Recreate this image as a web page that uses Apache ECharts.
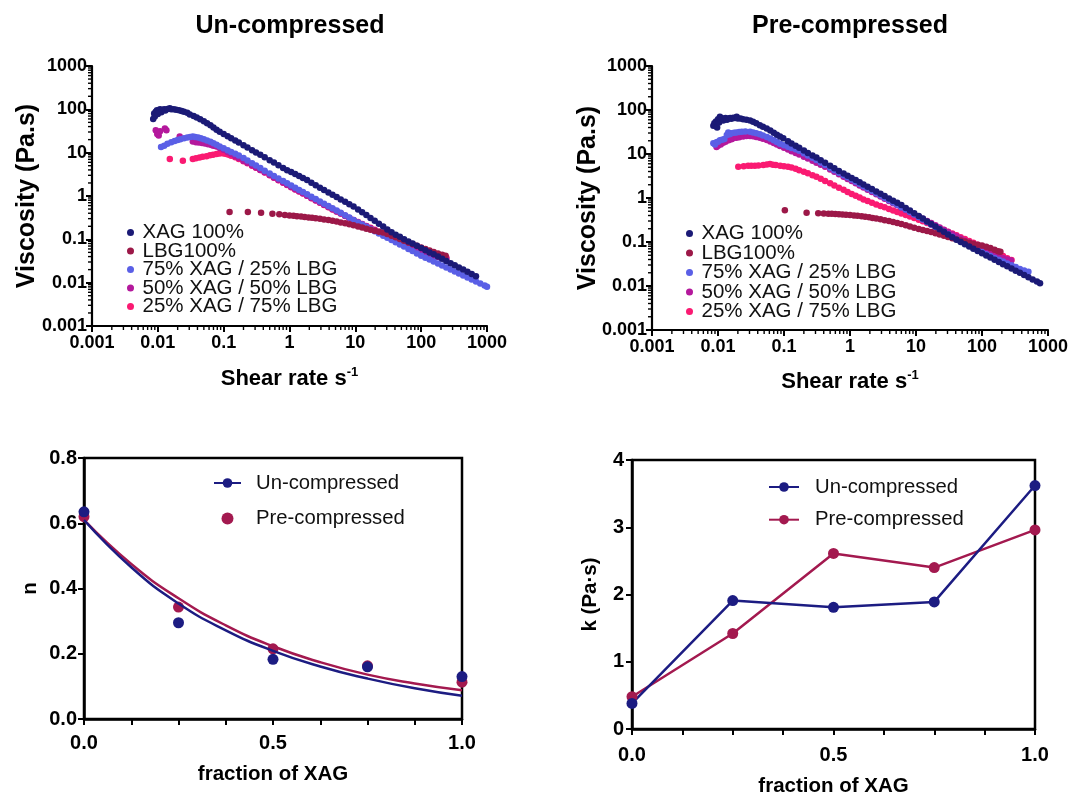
<!DOCTYPE html>
<html>
<head>
<meta charset="utf-8">
<title>Viscosity of XAG / LBG blends</title>
<script src="https://cdn.jsdelivr.net/npm/echarts@6/dist/echarts.min.js"></script>
<style>
    body { margin: 0; background: #fff; }
    .panel { position: absolute; }
</style>
</head>
<body>
<div id="visc-un" class="panel" style="left:0;top:0;width:536px;height:400px"></div>
<div id="visc-pre" class="panel" style="left:536px;top:0;width:536px;height:400px"></div>
<div id="n-chart" class="panel" style="left:0;top:400px;width:536px;height:395px"></div>
<div id="k-chart" class="panel" style="left:536px;top:400px;width:536px;height:395px"></div>
<script>
var FONT = '"Liberation Sans", Arial, Helvetica, sans-serif';

// legend names / colours of the flow curves
var blendNames = ['XAG 100%', 'LBG100%', '75% XAG / 25% LBG', '50% XAG / 50% LBG', '25% XAG / 75% LBG'];
var blendColors = ['#1b1a76', '#9c1848', '#5a5fe6', '#b4189c', '#fa1a72'];

// Un-compressed : [shear rate, viscosity]
var unXag = [[0.0085,60],[0.0088,80],[0.009,68],[0.0093,88],[0.0097,95],[0.01,78],[0.0104,92],[0.0108,100],[0.0113,86],[0.0118,96],[0.0125,100],[0.013,94],[0.014,102],[0.0152,106],[0.016,100],[0.0175,101],[0.019,98],[0.021,95],[0.023,92],[0.025,88],[0.028,83],[0.0306,76],[0.035,70],[0.039,65],[0.044,59],[0.05,53],[0.056,48],[0.063,43],[0.07,38],[0.078,34],[0.087,30.5],[0.1,27],[0.115,24],[0.13,21.5],[0.15,19],[0.17,17.1],[0.2,14.8],[0.23,13.1],[0.27,11.4],[0.31,10.1],[0.36,8.9],[0.42,7.8],[0.5,6.7],[0.58,5.9],[0.68,5.1],[0.8,4.45],[0.92,3.95],[1.06,3.6],[1.22,3.2],[1.4,2.9],[1.6,2.6],[1.85,2.33],[2.15,2.02],[2.5,1.77],[2.9,1.56],[3.35,1.38],[3.9,1.21],[4.5,1.07],[5.2,0.945],[6,0.835],[7,0.733],[8.1,0.647],[9.4,0.569],[11,0.491],[12.7,0.423],[14.7,0.363],[17,0.312],[19.7,0.268],[22.8,0.23],[26.5,0.197],[30.6,0.169],[35.5,0.145],[41,0.128],[47.5,0.114],[55,0.101],[64,0.0897],[74,0.0798],[86,0.0708],[100,0.063],[116,0.056],[134,0.05],[155,0.045],[180,0.04],[208,0.0356],[241,0.0318],[280,0.0282],[324,0.0252],[375,0.0225],[435,0.02],[505,0.0178],[585,0.0159],[680,0.014]];
var unLbg = [[0.123,0.425],[0.233,0.43],[0.37,0.41],[0.55,0.39],[0.7,0.38],[0.85,0.365],[1,0.355],[1.15,0.348],[1.3,0.342],[1.5,0.335],[1.7,0.328],[1.95,0.32],[2.2,0.313],[2.5,0.306],[2.9,0.297],[3.35,0.288],[3.9,0.278],[4.5,0.268],[5.2,0.257],[6,0.246],[7,0.234],[8.1,0.222],[9.4,0.21],[11,0.198],[12.7,0.187],[14.7,0.176],[17,0.166],[19.7,0.157],[22.8,0.15],[26.5,0.143],[30.6,0.132],[35.5,0.121],[41,0.111],[47.5,0.102],[55,0.093],[64,0.085],[74,0.078],[86,0.071],[100,0.065],[116,0.06],[134,0.055],[155,0.051],[180,0.047],[208,0.044],[235,0.042]];
var un75 = [[0.0112,13.5],[0.0125,14.5],[0.014,16],[0.016,17.5],[0.018,18.5],[0.02,19.5],[0.022,20.5],[0.025,21.5],[0.028,22.5],[0.031,23],[0.034,23.5],[0.037,23],[0.041,22.5],[0.045,21.5],[0.05,20.5],[0.056,19.2],[0.063,17.8],[0.07,16.5],[0.078,15.2],[0.087,13.9],[0.1,12.6],[0.115,11.3],[0.13,10.3],[0.15,9.5],[0.17,8.6],[0.2,7.5],[0.23,6.6],[0.27,5.7],[0.31,5.05],[0.36,4.4],[0.42,3.85],[0.5,3.3],[0.58,2.9],[0.68,2.53],[0.8,2.21],[0.92,1.96],[1.06,1.74],[1.22,1.55],[1.4,1.38],[1.6,1.235],[1.85,1.094],[2.15,0.965],[2.5,0.85],[2.9,0.75],[3.35,0.665],[3.9,0.586],[4.5,0.52],[5.2,0.46],[6,0.409],[7,0.359],[8.1,0.318],[9.4,0.281],[11,0.246],[12.7,0.219],[14.7,0.195],[17,0.1735],[19.7,0.154],[22.8,0.137],[26.5,0.1216],[30.6,0.1083],[35.5,0.0963],[41,0.0858],[47.5,0.0763],[55,0.0679],[64,0.06],[74,0.0535],[86,0.0474],[100,0.042],[116,0.0378],[134,0.0341],[155,0.0307],[180,0.0276],[208,0.0249],[241,0.0224],[280,0.0201],[324,0.0181],[375,0.0163],[435,0.0147],[505,0.0132],[585,0.0119],[680,0.0107],[790,0.0096],[920,0.0086],[1000,0.0081]];
var un50 = [[0.0093,33],[0.0098,27],[0.0103,25],[0.0108,31],[0.0128,36],[0.0135,33],[0.0215,23.5],[0.034,18],[0.038,17.5],[0.042,17.2],[0.047,16.8],[0.052,16.3],[0.058,15.6],[0.065,15],[0.07,14.5],[0.078,13.8],[0.087,12.8],[0.1,11.6],[0.115,10.4],[0.13,9.4],[0.15,8.3],[0.17,7.5],[0.2,6.55],[0.23,5.85],[0.27,5.1],[0.31,4.55],[0.36,4],[0.42,3.52],[0.5,3.04],[0.58,2.69],[0.68,2.35],[0.8,2.06],[0.92,1.83],[1.06,1.62],[1.22,1.44],[1.4,1.29],[1.6,1.15],[1.85,1.02],[2.15,0.9],[2.5,0.795],[2.9,0.705],[3.35,0.625],[3.9,0.555],[4.5,0.495],[5.2,0.44],[6,0.393],[7,0.347],[8.1,0.31],[9.4,0.277],[11,0.246],[12.7,0.222],[14.7,0.2],[17,0.18],[19.7,0.162],[22.8,0.146],[26.5,0.131],[30.6,0.118],[35.5,0.106],[41,0.096],[47.5,0.087],[55,0.078],[64,0.071],[74,0.064],[86,0.058],[100,0.053],[116,0.049],[134,0.045],[155,0.042],[180,0.039],[208,0.037],[241,0.035]];
var un25 = [[0.0152,7.1],[0.024,6.5],[0.034,7.1],[0.038,7.4],[0.043,7.7],[0.048,8],[0.055,8.3],[0.062,8.7],[0.069,8.9],[0.078,9.3],[0.087,9.6],[0.1,9.6],[0.11,9.3],[0.12,8.9],[0.13,8.5],[0.15,7.8],[0.17,7.1],[0.2,6.3],[0.23,5.7],[0.27,5],[0.31,4.5],[0.36,4],[0.42,3.5],[0.5,3],[0.58,2.65],[0.68,2.3],[0.8,2.02],[0.92,1.8],[1.06,1.6],[1.22,1.42],[1.4,1.27],[1.6,1.14],[1.85,1.01],[2.15,0.89],[2.5,0.79],[2.9,0.7],[3.35,0.62],[3.9,0.55],[4.5,0.49],[5.2,0.44],[6,0.393],[7,0.35],[8.1,0.312],[9.4,0.28],[11,0.25],[12.7,0.226],[14.7,0.204],[17,0.184],[19.7,0.166],[22.8,0.15],[26.5,0.135],[30.6,0.122],[35.5,0.11],[41,0.1],[47.5,0.09],[55,0.082],[64,0.074],[74,0.067],[86,0.061],[100,0.056],[116,0.052],[134,0.048],[155,0.045],[180,0.042],[208,0.04],[241,0.038]];

// Pre-compressed : [shear rate, viscosity]
var preXag = [[0.0085,44],[0.0088,50],[0.009,46],[0.0093,55],[0.0097,40],[0.01,62],[0.0104,52],[0.0107,70],[0.011,60],[0.0115,65],[0.012,58],[0.0125,62],[0.013,66],[0.0137,60],[0.0145,64],[0.0153,66],[0.016,63],[0.017,67],[0.018,66],[0.0192,70],[0.02,64],[0.022,64],[0.024,62],[0.027,60],[0.0306,58],[0.034,54],[0.038,50],[0.043,45],[0.048,41.5],[0.0547,38],[0.062,34],[0.07,30.5],[0.078,27.5],[0.087,25],[0.0976,22.7],[0.115,19.5],[0.13,17.4],[0.15,15.4],[0.17,13.9],[0.2,12],[0.23,10.6],[0.27,9.3],[0.31,8.3],[0.36,7.25],[0.42,6.3],[0.5,5.4],[0.58,4.75],[0.68,4.1],[0.8,3.6],[0.92,3.2],[1.06,2.85],[1.22,2.55],[1.4,2.28],[1.6,2.04],[1.85,1.81],[2.15,1.6],[2.5,1.41],[2.9,1.25],[3.35,1.11],[3.9,0.98],[4.5,0.87],[5.2,0.775],[6,0.69],[7,0.593],[8.1,0.518],[9.4,0.45],[11,0.388],[12.7,0.34],[14.7,0.294],[17,0.257],[19.7,0.225],[22.8,0.196],[26.5,0.17],[30.6,0.148],[35.5,0.129],[41,0.112],[47.5,0.0994],[55,0.0885],[64,0.0786],[74,0.0704],[86,0.0626],[100,0.0557],[116,0.0496],[134,0.0443],[155,0.0395],[180,0.0351],[208,0.0314],[241,0.028],[280,0.0249],[324,0.0223],[375,0.0199],[435,0.0177],[505,0.0158],[585,0.0141],[680,0.0126],[757,0.0116]];
var preLbg = [[0.103,0.53],[0.22,0.46],[0.33,0.45],[0.4,0.445],[0.47,0.44],[0.53,0.437],[0.6,0.433],[0.68,0.428],[0.77,0.423],[0.87,0.418],[1,0.41],[1.15,0.402],[1.3,0.395],[1.5,0.385],[1.7,0.375],[1.95,0.364],[2.2,0.353],[2.5,0.342],[2.9,0.328],[3.35,0.314],[3.9,0.299],[4.5,0.285],[5.2,0.27],[6,0.256],[7,0.241],[8.1,0.226],[9.4,0.212],[11,0.198],[12.7,0.188],[14.7,0.178],[17,0.168],[19.7,0.158],[22.8,0.148],[26.5,0.139],[30.6,0.13],[35.5,0.122],[41,0.115],[47.5,0.108],[55,0.102],[64,0.096],[74,0.091],[86,0.087],[100,0.083],[116,0.078],[134,0.073],[155,0.067],[175,0.062],[190,0.06]];
var pre75 = [[0.0085,17.5],[0.009,16.5],[0.0095,18.5],[0.01,19],[0.0107,20.5],[0.0115,21],[0.0125,22],[0.0136,27],[0.0143,31],[0.015,28],[0.016,29.5],[0.0175,30.5],[0.019,31],[0.021,31.5],[0.023,32],[0.026,32.5],[0.0306,32],[0.034,31],[0.038,29.5],[0.043,28],[0.048,26.5],[0.055,24.5],[0.062,22.5],[0.07,20.5],[0.078,18.8],[0.087,17.2],[0.1,15.8],[0.115,14.6],[0.13,13.7],[0.15,12.8],[0.17,11.8],[0.2,10.4],[0.23,9.3],[0.27,8.2],[0.31,7.3],[0.36,6.4],[0.42,5.6],[0.5,4.85],[0.58,4.3],[0.68,3.75],[0.8,3.3],[0.92,2.95],[1.06,2.62],[1.22,2.33],[1.4,2.08],[1.6,1.86],[1.85,1.65],[2.15,1.46],[2.5,1.29],[2.9,1.14],[3.35,1.01],[3.9,0.89],[4.5,0.79],[5.2,0.7],[6,0.62],[7,0.545],[8.1,0.48],[9.4,0.42],[11,0.37],[12.7,0.325],[14.7,0.285],[17,0.25],[19.7,0.22],[22.8,0.194],[26.5,0.17],[30.6,0.15],[35.5,0.132],[41,0.117],[47.5,0.104],[55,0.093],[64,0.083],[74,0.074],[86,0.066],[100,0.059],[116,0.053],[134,0.048],[155,0.0435],[180,0.0395],[208,0.036],[241,0.0325],[280,0.0295],[324,0.027],[375,0.0245],[435,0.0225],[505,0.021]];
var pre50 = [[0.0095,14.5],[0.01,15.5],[0.011,16.5],[0.012,18],[0.013,19],[0.0145,20.5],[0.016,21.5],[0.017,22.7],[0.019,23.5],[0.021,24],[0.024,25],[0.027,25.5],[0.0306,25.6],[0.034,25.2],[0.038,24.5],[0.043,23.5],[0.048,22.3],[0.055,20.8],[0.062,19.3],[0.07,17.8],[0.078,16.5],[0.087,15.2],[0.1,13.8],[0.115,12.6],[0.13,11.6],[0.15,10.6],[0.17,9.8],[0.2,8.7],[0.23,7.9],[0.27,7],[0.31,6.35],[0.36,5.7],[0.42,5.1],[0.5,4.45],[0.58,3.95],[0.68,3.48],[0.8,3.05],[0.92,2.72],[1.06,2.42],[1.22,2.16],[1.4,1.93],[1.6,1.73],[1.85,1.54],[2.15,1.37],[2.5,1.21],[2.9,1.08],[3.35,0.96],[3.9,0.85],[4.5,0.76],[5.2,0.68],[6,0.6],[7,0.535],[8.1,0.475],[9.4,0.425],[11,0.378],[12.7,0.338],[14.7,0.302],[17,0.27],[19.7,0.24],[22.8,0.214],[26.5,0.19],[30.6,0.169],[35.5,0.151],[41,0.135],[47.5,0.12],[55,0.107],[64,0.096],[74,0.086],[86,0.077],[100,0.069],[116,0.062],[134,0.056],[155,0.051],[180,0.047],[208,0.043],[241,0.04],[275,0.038]];
var pre25 = [[0.0203,5.1],[0.0245,5.3],[0.0286,5.4],[0.032,5.4],[0.0362,5.4],[0.041,5.5],[0.0486,5.6],[0.055,5.8],[0.0614,5.9],[0.068,5.7],[0.075,5.6],[0.0876,5.4],[0.1,5.3],[0.115,5.15],[0.13,4.95],[0.15,4.6],[0.17,4.3],[0.2,3.95],[0.23,3.65],[0.27,3.3],[0.31,3.05],[0.36,2.75],[0.42,2.45],[0.5,2.15],[0.58,1.92],[0.68,1.72],[0.8,1.53],[0.92,1.37],[1.06,1.24],[1.22,1.12],[1.4,1.02],[1.6,0.93],[1.85,0.855],[2.15,0.78],[2.5,0.715],[2.9,0.655],[3.35,0.62],[3.9,0.565],[4.5,0.52],[5.2,0.48],[6,0.445],[7,0.41],[8.1,0.378],[9.4,0.35],[11,0.32],[12.7,0.295],[14.7,0.27],[17,0.248],[19.7,0.227],[22.8,0.207],[26.5,0.188],[30.6,0.171],[35.5,0.156],[41,0.142],[47.5,0.129],[55,0.117],[64,0.106],[74,0.096],[86,0.087],[100,0.079],[116,0.072],[134,0.065],[155,0.059],[180,0.053],[208,0.048],[241,0.043],[280,0.039]];

// power-law parameters vs fraction of XAG
var fraction = [0, 0.25, 0.5, 0.75, 1.0];
var nUn = [0.635, 0.295, 0.183, 0.16, 0.13];
var nPre = [0.62, 0.343, 0.215, 0.163, 0.113];
var fitX = [0, 0.125, 0.25, 0.375, 0.5, 0.625, 0.75, 0.875, 1.0];
var nFitUn = [0.61, 0.465, 0.354, 0.272, 0.209, 0.161, 0.124, 0.094, 0.071];
var nFitPre = [0.61, 0.475, 0.37, 0.287, 0.223, 0.174, 0.136, 0.109, 0.088];
var kUn = [0.38, 1.91, 1.81, 1.89, 3.62];
var kPre = [0.48, 1.42, 2.61, 2.40, 2.96];

var navy = '#1c1c82';
var crimson = '#a3194f';

// log minor ticks 2..9 in each decade
var mults = [2, 3, 4, 5, 6, 7, 8, 9];
var decades = [0.001, 0.01, 0.1, 1, 10, 100];
var minorTicks = [];
decades.forEach(function (d) {
    mults.forEach(function (m) { minorTicks.push(+(d * m).toPrecision(3)); });
});

function zip(xs, ys) {
    return xs.map(function (x, i) { return [x, ys[i]]; });
}

function logLabel(v) {
    return String(+Number(v).toPrecision(6));
}

function fracLabel(v) {
    if (v === 0) return '0.0';
    if (v === 0.5) return '0.5';
    if (v === 1) return '1.0';
    return '';
}

function boldText(size) {
    return { fontFamily: FONT, fontSize: size, fontWeight: 'bold', color: '#000' };
}

function viscosityOption(cfg) {
    var series = [];
    // XAG drawn last so it stays on top
    for (var i = cfg.sets.length - 1; i >= 0; i--) {
        series.push({
            name: blendNames[i],
            type: 'scatter',
            data: cfg.sets[i],
            symbolSize: 6.5,
            itemStyle: { color: blendColors[i], opacity: 1 }
        });
    }
    series.push({
        type: 'custom',
        silent: true,
        data: minorTicks.map(function (v) { return [v, 0.001]; }),
        renderItem: function (params, api) {
            var c = api.coord([api.value(0), api.value(1)]);
            return { type: 'line', shape: { x1: c[0], y1: c[1], x2: c[0], y2: c[1] + 4 }, style: { stroke: '#000', lineWidth: 1.4 } };
        }
    });
    series.push({
        type: 'custom',
        silent: true,
        data: minorTicks.map(function (v) { return [0.001, v]; }),
        renderItem: function (params, api) {
            var c = api.coord([api.value(0), api.value(1)]);
            return { type: 'line', shape: { x1: c[0], y1: c[1], x2: c[0] - 4, y2: c[1] }, style: { stroke: '#000', lineWidth: 1.4 } };
        }
    });
    return {
        animation: false,
        title: {
            text: cfg.title,
            left: cfg.titleX,
            top: 9,
            textAlign: 'center',
            textStyle: boldText(25)
        },
        legend: {
            orient: 'vertical',
            left: cfg.legendLeft,
            top: cfg.legendTop,
            icon: 'circle',
            itemWidth: 14,
            itemHeight: 7,
            itemGap: cfg.rowGap,
            selectedMode: false,
            data: blendNames,
            textStyle: { fontFamily: FONT, fontSize: 20.5, color: '#111' }
        },
        grid: { left: cfg.gridLeft, top: 66, width: cfg.gridW, height: cfg.gridH, outerBoundsMode: 'none' },
        xAxis: {
            type: 'log',
            logBase: 10,
            min: 0.001,
            max: 1000,
            name: '{a|Shear rate s}{b|-1}',
            nameLocation: 'middle',
            nameGap: cfg.xNameGap,
            nameMoveOverlap: false,
            nameTextStyle: {
                rich: {
                    a: { fontFamily: FONT, fontSize: 22, fontWeight: 'bold', color: '#000', lineHeight: 26 },
                    b: { fontFamily: FONT, fontSize: 13, fontWeight: 'bold', color: '#000', lineHeight: 12, verticalAlign: 'top' }
                }
            },
            axisLine: { onZero: false, lineStyle: { color: '#000', width: 2.2 } },
            axisTick: { length: 6, lineStyle: { color: '#000', width: 2 } },
            axisLabel: Object.assign({ formatter: logLabel, margin: 8 }, boldText(18)),
            splitLine: { show: false }
        },
        yAxis: {
            type: 'log',
            logBase: 10,
            min: 0.001,
            max: 1000,
            name: 'Viscosity (Pa.s)',
            nameLocation: 'middle',
            nameGap: cfg.yNameGap,
            nameMoveOverlap: false,
            nameTextStyle: boldText(25),
            axisLine: { show: true, onZero: false, lineStyle: { color: '#000', width: 2.2 } },
            axisTick: { show: true, length: 6, lineStyle: { color: '#000', width: 2 } },
            axisLabel: Object.assign({ formatter: logLabel, margin: 5 }, boldText(18)),
            splitLine: { show: false }
        },
        series: series
    };
}

function fractionAxis(nameGap, margin) {
    return {
        type: 'value',
        min: 0,
        max: 1,
        interval: 0.125,
        name: 'fraction of XAG',
        nameLocation: 'middle',
        nameGap: nameGap,
        nameMoveOverlap: false,
        nameTextStyle: boldText(20.5),
        axisLine: { onZero: false, lineStyle: { color: '#000', width: 2.5 } },
        axisTick: { length: 6, lineStyle: { color: '#000', width: 2 } },
        axisLabel: Object.assign({ formatter: fracLabel, margin: margin, showMinLabel: true, showMaxLabel: true }, boldText(20)),
        splitLine: { show: false }
    };
}

var visc_un = echarts.init(document.getElementById('visc-un'));
visc_un.setOption(viscosityOption({
    title: 'Un-compressed', titleX: 285,
    legendLeft: 122, legendTop: 217, rowGap: -2.5,
    gridLeft: 92, gridW: 395, gridH: 260, xNameGap: 40, yNameGap: 52,
    sets: [unXag, unLbg, un75, un50, un25]
}));

var visc_pre = echarts.init(document.getElementById('visc-pre'));
visc_pre.setOption(viscosityOption({
    title: 'Pre-compressed', titleX: 309,
    legendLeft: 145, legendTop: 218, rowGap: -1.5,
    gridLeft: 116, gridW: 396, gridH: 264, xNameGap: 39, yNameGap: 51,
    sets: [preXag, preLbg, pre75, pre50, pre25]
}));

// n vs fraction, with the fitted decay curves
var n_chart = echarts.init(document.getElementById('n-chart'));
n_chart.setOption({
    animation: false,
    legend: {
        orient: 'vertical',
        left: 208,
        top: 67,
        itemWidth: 27,
        itemHeight: 12,
        itemGap: 13.6,
        selectedMode: false,
        data: ['Un-compressed', 'Pre-compressed'],
        textStyle: { fontFamily: FONT, fontSize: 20.3, lineHeight: 22, color: '#111', padding: [0, 0, 0, 10] }
    },
    grid: { left: 84, top: 58, width: 378, height: 261, show: true, borderColor: '#000', borderWidth: 2.5, outerBoundsMode: 'none' },
    xAxis: fractionAxis(45, 14),
    yAxis: {
        type: 'value',
        min: 0,
        max: 0.8,
        interval: 0.2,
        name: 'n',
        nameLocation: 'middle',
        nameGap: 43,
        nameMoveOverlap: false,
        nameTextStyle: boldText(20.5),
        axisLine: { show: true, lineStyle: { color: '#000', width: 2.5 } },
        axisTick: { show: true, length: 6, lineStyle: { color: '#000', width: 2 } },
        axisLabel: Object.assign({ formatter: function (v) { return v.toFixed(1); }, margin: 7 }, boldText(20)),
        splitLine: { show: false }
    },
    series: [
        {
            name: 'Pre-compressed fit',
            type: 'line',
            smooth: true,
            showSymbol: false,
            data: zip(fitX, nFitPre),
            lineStyle: { color: crimson, width: 2.5 },
            itemStyle: { color: crimson }
        },
        {
            name: 'Un-compressed',
            type: 'line',
            smooth: true,
            showSymbol: false,
            symbol: 'circle',
            data: zip(fitX, nFitUn),
            lineStyle: { color: navy, width: 2.5 },
            itemStyle: { color: navy }
        },
        {
            name: 'Pre-compressed',
            type: 'scatter',
            symbol: 'circle',
            symbolSize: 11,
            data: zip(fraction, nPre),
            itemStyle: { color: crimson, opacity: 1 }
        },
        {
            name: 'Un-compressed points',
            type: 'scatter',
            symbol: 'circle',
            symbolSize: 11,
            data: zip(fraction, nUn),
            itemStyle: { color: navy, opacity: 1 }
        }
    ]
});

// k vs fraction
var k_chart = echarts.init(document.getElementById('k-chart'));
k_chart.setOption({
    animation: false,
    legend: {
        orient: 'vertical',
        left: 227,
        top: 71,
        itemWidth: 30,
        itemHeight: 12,
        itemGap: 10.7,
        selectedMode: false,
        data: ['Un-compressed', 'Pre-compressed'],
        textStyle: { fontFamily: FONT, fontSize: 20.3, lineHeight: 22, color: '#111', padding: [0, 0, 0, 11] }
    },
    grid: { left: 96, top: 60, width: 403, height: 269, show: true, borderColor: '#000', borderWidth: 2.5, outerBoundsMode: 'none' },
    xAxis: fractionAxis(47, 16),
    yAxis: {
        type: 'value',
        min: 0,
        max: 4,
        interval: 1,
        name: 'k (Pa·s)',
        nameLocation: 'middle',
        nameGap: 31,
        nameMoveOverlap: false,
        nameTextStyle: boldText(20.5),
        axisLine: { show: true, lineStyle: { color: '#000', width: 2.5 } },
        axisTick: { show: true, length: 6, lineStyle: { color: '#000', width: 2 } },
        axisLabel: Object.assign({ margin: 8 }, boldText(20)),
        splitLine: { show: false }
    },
    series: [
        {
            name: 'Pre-compressed',
            type: 'line',
            symbol: 'circle',
            symbolSize: 11,
            data: zip(fraction, kPre),
            lineStyle: { color: crimson, width: 2.5 },
            itemStyle: { color: crimson }
        },
        {
            name: 'Un-compressed',
            type: 'line',
            symbol: 'circle',
            symbolSize: 11,
            data: zip(fraction, kUn),
            lineStyle: { color: navy, width: 2.5 },
            itemStyle: { color: navy }
        }
    ]
});
</script>
</body>
</html>
